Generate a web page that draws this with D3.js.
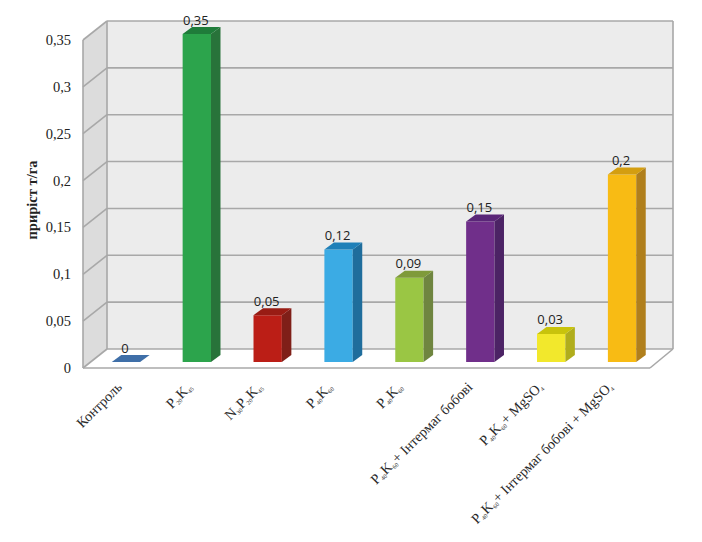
<!DOCTYPE html>
<html><head><meta charset="utf-8">
<style>html,body{margin:0;padding:0;background:#fff}svg{display:block}</style>
<script src="https://cdn.jsdelivr.net/npm/d3@7/dist/d3.min.js"></script>
</head><body><svg id="c" width="702" height="542"></svg>
<script>
const categories=["Контроль","P_20_K_45","N_30_P_20_K_45","P_40_K_60","P_40_K_60","P_40_K_60_+ Інтермаг бобові","P_40_K_60_+ MgSO_4","P_40_K_60_+ Інтермаг бобові + MgSO_4"];
const values=[0,0.35,0.05,0.12,0.09,0.15,0.03,0.2];
const valueLabels=["0","0,35","0,05","0,12","0,09","0,15","0,03","0,2"];
const ticks=[0,0.05,0.1,0.15,0.2,0.25,0.3,0.35];
const tickLabels=["0","0,05","0,1","0,15","0,2","0,25","0,3","0,35"];
const frontColors=["#3f6fa8","#2ca44c","#bb1e16","#3babe4","#9ac644","#702f8a","#f2e82c","#f8bb14"];
const sideColors=["#3f6fa8","#28733a","#7f1f18","#1f6d9c","#6f8540","#4c2365","#b0ad1c","#b07f1c"];
const topColors=["#3f6fa8","#1f7c3a","#991c14","#2080b8","#7f9a3a","#5a2678","#c8c30c","#d49e10"];
const yAxisTitle="приріст т/га";

const svg=d3.select("#c");
const serif="'Liberation Serif',serif", sans="'Open Sans',sans-serif";
const yBack=d3.scaleLinear().domain([0,0.35]).range([349,21]);
const yFront=d3.scaleLinear().domain([0,0.35]).range([368,40]);
const yBar=d3.scaleLinear().domain([0,0.35]).range([362,34]);
const x=d3.scaleBand().domain(d3.range(categories.length)).range([90.5,657.5]).paddingInner(0.6).paddingOuter(0.3);
const wallL=107,wallR=673,frontL=83,frontR=650,dx=9.5,dy=7;
const line="#a8a8a8";

const poly=(pts,fill,stroke)=>svg.append("polygon").attr("points",pts.map(p=>p.join(",")).join(" ")).attr("fill",fill).attr("stroke",stroke||"none");
poly([[wallL,yBack(.35)],[wallR,yBack(.35)],[wallR,yBack(0)],[wallL,yBack(0)]],"#ececec");
poly([[frontL,yFront(.35)],[wallL,yBack(.35)],[wallL,yBack(0)],[frontL,yFront(0)]],"#dcdcdc");
poly([[frontL,yFront(0)],[wallL,yBack(0)],[wallR,yBack(0)],[frontR,yFront(0)]],"#ffffff");

svg.append("g").selectAll("line").data(ticks).join("line")
 .attr("x1",wallL).attr("x2",wallR).attr("y1",d=>yBack(d)).attr("y2",d=>yBack(d))
 .attr("stroke",line).attr("stroke-width",1.6);
svg.append("g").selectAll("line").data(ticks).join("line")
 .attr("x1",frontL).attr("x2",wallL).attr("y1",d=>yFront(d)).attr("y2",d=>yBack(d))
 .attr("stroke",line).attr("stroke-width",1.6);
const seg=(a,b,c,e)=>svg.append("line").attr("x1",a).attr("y1",b).attr("x2",c).attr("y2",e).attr("stroke",line).attr("stroke-width",1.6);
seg(wallL,yBack(.35),wallL,yBack(0));
seg(wallR,yBack(.35),wallR,yBack(0));
seg(frontL,yFront(.35),frontL,yFront(0));
seg(frontL,yFront(0),frontR,yFront(0));
seg(frontR,yFront(0),wallR,yBack(0));

const bars=svg.append("g").selectAll("g").data(values).join("g");
bars.each(function(v,i){
  const g=d3.select(this),l=x(i),r=l+x.bandwidth(),t=yBar(v),b=yBar(0);
  const p=(pts,f)=>g.append("polygon").attr("points",pts.map(q=>q.join(",")).join(" ")).attr("fill",f);
  if(v>0){
    p([[l,b],[r,b],[r,t],[l,t]],frontColors[i]);
    p([[r,b],[r+dx,b-dy],[r+dx,t-dy],[r,t]],sideColors[i]);
  }
  p([[l,t],[r,t],[r+dx,t-dy],[l+dx,t-dy]],topColors[i]);
});

svg.append("g").selectAll("text").data(values).join("text")
 .attr("x",(d,i)=>x(i)+x.bandwidth()/2-1).attr("y",d=>yBar(d)-9.5)
 .attr("text-anchor","middle").attr("font-family",sans).attr("font-size",13).attr("fill","#222")
 .text((d,i)=>valueLabels[i]);

svg.append("g").selectAll("text").data(ticks).join("text")
 .attr("x",71).attr("y",d=>yFront(d)+5).attr("text-anchor","end")
 .attr("font-family",serif).attr("font-size",14.5).attr("fill","#222")
 .text((d,i)=>tickLabels[i]);

svg.append("text").attr("transform","translate(37,200) rotate(-90)").attr("text-anchor","middle")
 .attr("font-family",serif).attr("font-size",14.5).attr("font-weight","bold").attr("fill","#222").text(yAxisTitle);

svg.append("g").selectAll("text").data(categories).join("text")
 .attr("transform",(d,i)=>`translate(${x(i)+x.bandwidth()/2-3-i*0.8},388) rotate(-45)`)
 .attr("text-anchor","end").attr("font-family",serif).attr("font-size",14.2).attr("fill","#2a2a2a")
 .each(function(d){
   const t=d3.select(this);
   d.split("_").forEach((s,j)=>{
     const sub=j%2===1;
     const ts=t.append("tspan").text(s).attr("font-size",sub?6:14.2);
     if(sub) ts.attr("dy",2); else if(j>0) ts.attr("dy",-2);
   });
 });
</script></body></html>
